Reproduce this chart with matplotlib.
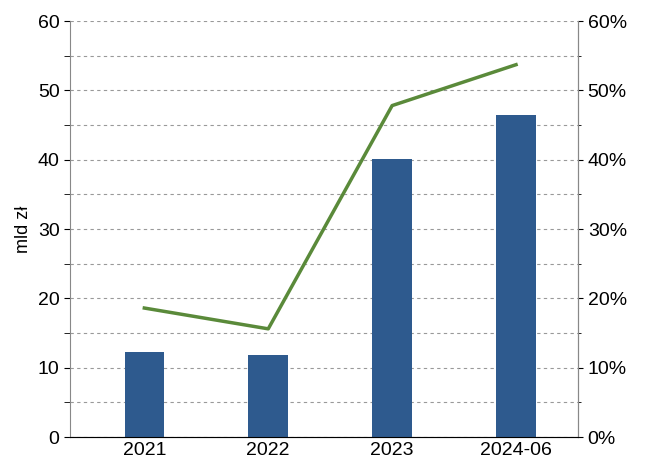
import matplotlib
matplotlib.use("Agg")
import matplotlib.pyplot as plt
from matplotlib.ticker import MultipleLocator, FuncFormatter

plt.rcParams['font.family'] = ['Liberation Sans', 'DejaVu Sans']

categories = ["2021", "2022", "2023", "2024-06"]
bars = [12.2, 11.8, 40.1, 46.5]
share = [18.6, 15.6, 47.8, 53.7]

fig = plt.figure(figsize=(6.46, 4.73), dpi=100)
ax = fig.add_axes([70/646, 36/473, 508/646, 416/473])
x = range(len(categories))
ax.bar(x, bars, width=0.32, color="#2E5A8E", zorder=3)
ax.set_ylim(0, 60)
ax.set_xlim(-0.6, 3.5)
ax.yaxis.set_major_locator(MultipleLocator(10))
ax.yaxis.set_minor_locator(MultipleLocator(5))
ax.grid(axis="y", which="both", linestyle=(0, (3, 3)), color="#999999", linewidth=0.8, zorder=0)
ax.set_xticks(list(x))
ax.set_xticklabels(categories)
ax.set_ylabel("mld zł", fontsize=13)
ax.tick_params(labelsize=14, length=0)
ax.tick_params(axis="y", which="both", length=4)
ax.spines["top"].set_visible(False)
for s in ["left", "bottom", "right"]:
    ax.spines[s].set_color("#888888")

ax2 = ax.twinx()
ax2.plot(x, share, color="#5A8A3A", linewidth=2.5, zorder=4)
ax2.set_ylim(0, 60)
ax2.yaxis.set_major_locator(MultipleLocator(10))
ax2.yaxis.set_minor_locator(MultipleLocator(5))
ax2.yaxis.set_major_formatter(FuncFormatter(lambda v, p: f"{int(v)}%"))
ax2.tick_params(labelsize=14, which="both")
ax2.spines["top"].set_visible(False)
ax2.spines["right"].set_color("#888888")
ax2.spines["left"].set_visible(False)

fig.savefig("out.png", dpi=100)
